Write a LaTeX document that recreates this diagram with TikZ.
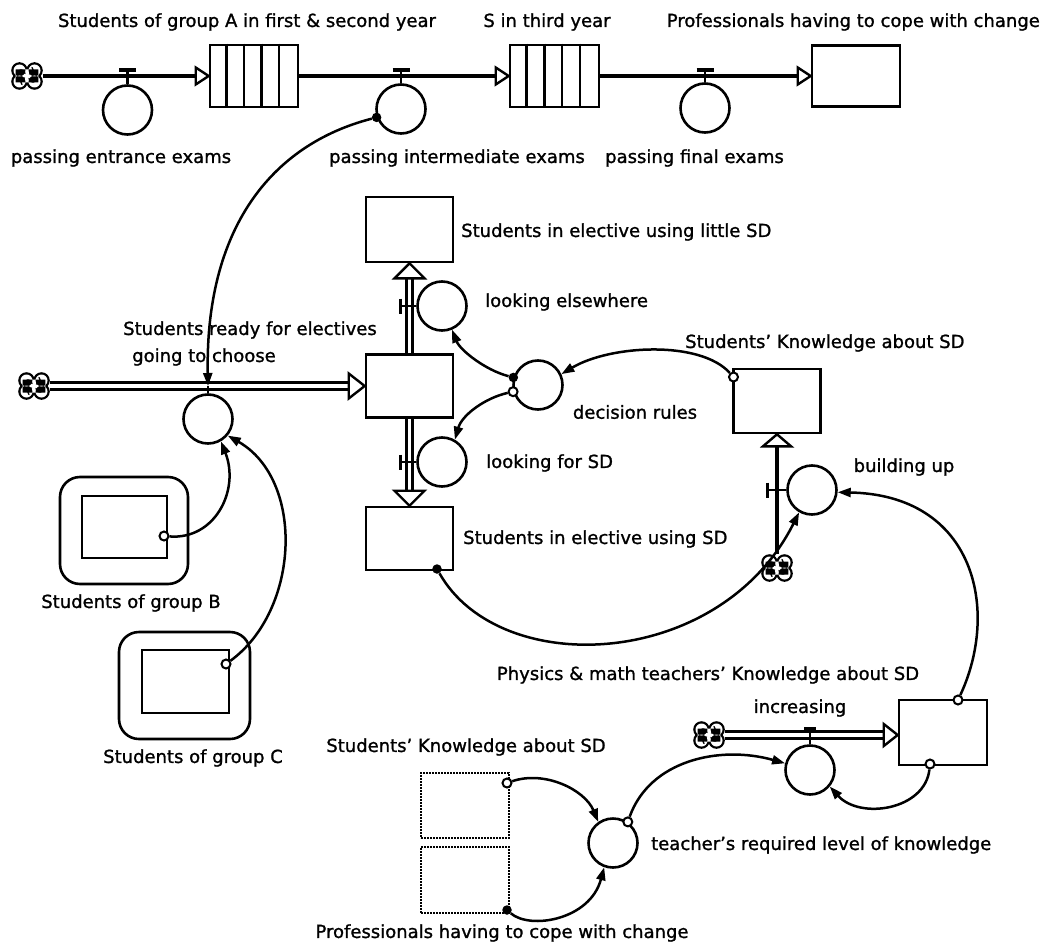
\documentclass[tikz,border=0pt]{standalone}
\usepackage{fontspec}
\setmainfont{DejaVu Sans}[FakeBold=1.2]
\usetikzlibrary{arrows.meta}
\begin{document}
\begin{tikzpicture}[x=1pt,y=-1pt,
  every node/.style={font=\fontsize{18}{20}\selectfont},
  lbl/.style={inner sep=0pt},
  stock/.style={draw, line width=2.6, fill=white, inner sep=0, minimum width=87, minimum height=63},
  valve/.style={circle, draw, line width=2.6, fill=white, minimum size=49, inner sep=0},
  conn/.style={line width=2.5, -{Triangle[length=13pt,width=9pt]}},
  odot/.style={circle, draw, line width=2, fill=white, minimum size=9, inner sep=0},
  fdot/.style={circle, fill=black, minimum size=9.5, inner sep=0},
  cloudspot/.style={minimum width=31, minimum height=27, inner sep=0},
  pipeS/.style={line width=4.8},
  pipeD/.style={line width=2.6, double=white, double distance=4},
  pipeV/.style={line width=2.4, double=white, double distance=3.4},
  vstem/.style={line width=2.5},
  vbar/.style={line width=3.2},
  pics/cloud/.style={code={
    \fill (-7.5,-5.5) circle (8.3) (7.5,-5.5) circle (8.3) (-7.5,5.5) circle (8.3) (7.5,5.5) circle (8.3);
    \fill[white] (-7.5,-5.5) circle (6) (7.5,-5.5) circle (6) (-7.5,5.5) circle (6) (7.5,5.5) circle (6)
                 (-11.3,-6.5) rectangle (11.3,6.5);
    \foreach \a in {0,90,180,270}
      \draw[rotate=\a, line width=1.3, line cap=round] (2,2.5) .. controls (2.5,6) and (6,7) .. (8.5,5);
  }},
  pics/ptip/.style 2 args={code={
    \draw[line width=2.4, fill=white] (0,0) -- (-#1,#2) -- (-#1,-#2) -- cycle;
  }}
]
\useasboundingbox (0,0) rectangle (1043,944);
\fill[white] (0,0) rectangle (1043,944);

% ---------- sources (clouds) ----------
\node[cloudspot] (c1) at (27,76) {};
\node[cloudspot] (c2) at (34,386) {};
\node[cloudspot] (c3) at (777,568) {};
\node[cloudspot] (c4) at (709,735) {};
\foreach \c in {c1,c2,c3,c4} \pic at (\c) {cloud};

% ---------- stocks ----------
\node[stock, minimum width=88, minimum height=62] (convA) at (254,76) {};
\node[stock, minimum width=89, minimum height=62] (convB) at (554.5,76) {};
\node[stock, minimum width=88, minimum height=61] (prof) at (856,76) {};
\foreach \i in {1,...,4} {
  \draw[line width=2.4] ([xshift=\i*17.6pt]convA.north west) -- ([xshift=\i*17.6pt]convA.south west);
  \draw[line width=2.4] ([xshift=\i*17.8pt]convB.north west) -- ([xshift=\i*17.8pt]convB.south west);
}
\node[stock, minimum height=65] (little) at (409.5,229.5) {};
\node[stock] (mid) at (409.5,386) {};
\node[stock] (sd) at (409.5,538.5) {};
\node[stock, minimum height=64] (skU) at (777,401) {};
\node[stock, minimum width=88, minimum height=65] (phys) at (943,732.5) {};

% group B and C (ghost stocks in rounded frames)
\node[draw, line width=2.6, rounded corners=20, minimum width=128, minimum height=107] (grpBf) at (124,530.5) {};
\node[stock, minimum width=85, minimum height=62] (grpB) at (124.5,527) {};
\node[draw, line width=2.6, rounded corners=20, minimum width=131, minimum height=107] (grpCf) at (184.5,685.5) {};
\node[stock, minimum width=87, minimum height=63] (grpC) at (185.5,681.5) {};

% dotted aliases
\node[stock, dash pattern=on 1.6pt off 1.4pt, minimum width=88, minimum height=65] (skL) at (465,805.5) {};
\node[stock, dash pattern=on 1.6pt off 1.4pt, minimum width=88, minimum height=66] (prL) at (465,880) {};

% ---------- pipes ----------
\draw[pipeS, shorten >=13pt] (c1) -- (convA);
\draw[pipeS, shorten >=13pt] (convA) -- (convB);
\draw[pipeS, shorten >=13pt] (convB) -- (prof);
\pic at (convA.west) {ptip={13}{8.5}};
\pic at (convB.west) {ptip={13}{8.5}};
\pic at (prof.west) {ptip={13}{8.5}};

\draw[pipeD, shorten >=16pt] (c2) -- (mid);
\pic at (mid.west) {ptip={16}{12.5}};
\draw[pipeV, shorten >=15pt] (mid) -- (little);
\pic[rotate=90] at (little.south) {ptip={15}{15}};
\draw[pipeV, shorten >=15pt] (mid) -- (sd);
\pic[rotate=-90] at (sd.north) {ptip={15}{15}};

\draw[pipeS, shorten >=12pt] (c3) -- (skU);
\pic[rotate=90] at (skU.south) {ptip={12}{14}};

\coordinate (physIn) at (c4 -| phys.west);
\draw[pipeD, shorten >=14pt] (c4) -- (physIn);
\pic at (physIn) {ptip={14}{11}};

% ---------- flows (valves) ----------
\coordinate (barY) at (0,70);
\node[valve] (vEnt) at (127.5,110) {};
\node[valve] (vInt) at (401,109) {};
\node[valve] (vFin) at (705,108) {};
\foreach \v in {vEnt,vInt,vFin} {
  \draw[vstem] (\v.north) -- (\v.north |- barY);
  \draw[vbar] (\v.north |- barY) ++(-8.5,0) -- ++(17,0);
}
\node[valve] (vChoose) at (208,419) {};
\coordinate (chooseTop) at (vChoose.north |- c2);
\draw[vstem] (vChoose.north) -- (chooseTop);

\node[valve] (vElse) at (442,306) {};
\node[valve] (vFor) at (442,462) {};
\foreach \v in {vElse,vFor} {
  \draw[vstem] (\v.west) -- ++(-16,0);
  \draw[vbar] (\v.west) ++(-16,-7.5) -- ++(0,15);
}
\node[valve] (vDec) at (538,385) {};
\node[valve] (vBuild) at (812,490) {};
\draw[vstem] (vBuild.west) -- ++(-19,0);
\draw[vbar] (vBuild.west) ++(-19,-7.5) -- ++(0,15);
\node[valve] (vInc) at (810,770) {};
\draw[vstem] (vInc.north) -- ++(0,-15.5);
\draw[line width=4] (vInc.north) ++(-6,-15.5) -- ++(12,0);
\node[valve] (vTeach) at (613,843) {};

% ---------- connector origins ----------
\node[fdot] (intO) at (vInt.-161) {};
\node[odot] (grpBd) at (164,536) {};
\node[odot] (grpCd) at (226,664) {};
\node[odot] (skUd) at (733.5,377) {};
\node[fdot] (decA) at (vDec.163) {};
\node[odot] (decB) at (vDec.195) {};
\node[fdot] (sdO) at (437,569) {};
\node[odot] (physT) at (958,700) {};
\node[odot] (physB) at (930,764) {};
\node[odot] (skLd) at (507,783) {};
\node[fdot] (prLd) at (507,910) {};
\node[odot] (teachO) at (vTeach.55) {};

% ---------- connectors ----------
\draw[conn] (intO) .. controls (270,145) and (205,230) .. (chooseTop);
\draw[conn] (grpBd) .. controls (215,540) and (240,490) .. (vChoose.-60);
\draw[conn] (grpCd) .. controls (300,610) and (305,480) .. (vChoose.-40);
\draw[conn] (skUd) .. controls (700,340) and (610,345) .. (vDec.25);
\draw[conn] (decA) .. controls (485,370) and (460,350) .. (vElse.-67);
\draw[conn] (decB) .. controls (485,398) and (462,415) .. (vFor.60);
\draw[conn] (sdO) .. controls (500,680) and (720,670) .. (vBuild.-120);
\draw[conn] (physT) .. controls (1000,610) and (975,495) .. (vBuild.-5);
\draw[conn] (physB) .. controls (925,810) and (860,820) .. (vInc.-40);
\draw[conn] (skLd) .. controls (545,770) and (585,790) .. (vTeach.125);
\draw[conn] (prLd) .. controls (530,930) and (590,920) .. (vTeach.-110);
\draw[conn] (teachO) .. controls (650,760) and (720,745) .. (vInc.165);

% ---------- labels ----------
\node[lbl] (tA) at (247,22) {Students of group A in first \& second year};
\node[lbl] (tS) at (547,22) {S in third year};
\node[lbl, anchor=east] (tP) at (1040,22) {Professionals having to cope with change};
\node[lbl] (lEnt) at (121,158) {passing entrance exams};
\node[lbl] (lInt) at (457,158) {passing intermediate exams};
\node[lbl, anchor=west] (lFin) at (605,158) {passing final exams};
\node[lbl, anchor=west] (lLittle) at (461,232) {Students in elective using little SD};
\node[lbl, anchor=west] (lElse) at (485,302) {looking elsewhere};
\node[lbl] (lReady) at (250,330) {Students ready for electives};
\node[lbl] (lChoose) at (204,357) {going to choose};
\node[lbl, anchor=west] (lSkU) at (685,343) {Students’ Knowledge about SD};
\node[lbl] (lDec) at (635,412) {decision rules};
\node[lbl, anchor=west] (lFor) at (486,463) {looking for SD};
\node[lbl] (lBuild) at (904,467) {building up};
\node[lbl, anchor=west] (lSd) at (463,539) {Students in elective using SD};
\node[lbl] (lB) at (131,603) {Students of group B};
\node[lbl] (lPhys) at (708,675) {Physics \& math teachers’ Knowledge about SD};
\node[lbl] (lInc) at (800,708) {increasing};
\node[lbl] (lSkL) at (466,747) {Students’ Knowledge about SD};
\node[lbl] (lC) at (193,758) {Students of group C};
\node[lbl, anchor=west] (lTeach) at (651,845) {teacher’s required level of knowledge};
\node[lbl] (lPrL) at (502,933) {Professionals having to cope with change};
\end{tikzpicture}
\end{document}
